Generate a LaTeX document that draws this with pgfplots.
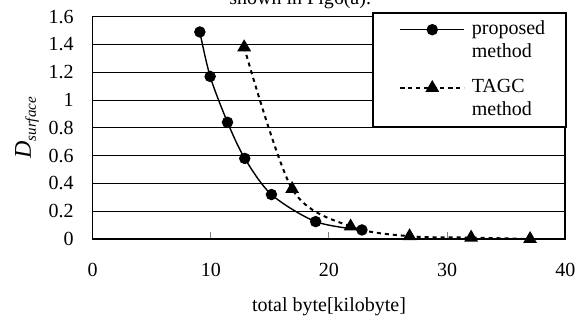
\documentclass[border=0pt]{standalone}
\usepackage{pgfplots}
\pgfplotsset{compat=1.18}
\usepackage{fontspec}
\setmainfont{Liberation Serif}
\begin{document}
\fontsize{10}{12}\selectfont
\begin{tikzpicture}
\begin{axis}[
  at={(0,0)}, anchor=south west,
  scale only axis, width=236.3pt, height=111.15pt,
  xmin=0, xmax=40, ymin=0, ymax=1.6,
  xtick={0,10,20,30,40},
  ytick={0,0.2,0.4,0.6,0.8,1,1.2,1.4,1.6},
  yticklabels={0,0.2,0.4,0.6,0.8,1,1.2,1.4,1.6},
  xtick pos=left,
  major tick length=3.5pt,
  tick align=inside,
  xtick style={draw=gray, line width=0.5pt},
  ytick style={draw=none},
  ymajorgrids,
  grid style={black, line width=0.5pt},
  axis line style={line width=0.8pt},
  /pgf/number format/assume math mode=true,
  tick label style={font=\fontsize{10}{12}\selectfont},
  xticklabel style={yshift=-8.5pt},
  yticklabel style={xshift=-6pt},
  xlabel={total byte[kilobyte]},
  ylabel={{\fontsize{12}{14}\selectfont\textit{D}}\raisebox{-2.5pt}{\fontsize{7.5}{9}\selectfont\textit{surface}}},
  xlabel style={at={(axis description cs:0.5,-0.305)}, anchor=center, font=\fontsize{10}{12}\selectfont},
  ylabel style={at={(axis description cs:-0.139,0.5)}, anchor=center},
  clip=false,
  legend style={at={(1.0036,1.021)}, anchor=north east, draw=black, line width=0.8pt, fill=white,
    inner xsep=10.5pt, inner ysep=4pt, row sep=9.5pt, column sep=3.3pt,
    nodes={inner sep=0pt, anchor=base west, align=left, font=\fontsize{10}{11.5}\selectfont},
    font=\fontsize{10}{11.5}\selectfont},
  legend cell align=left,
  legend image code/.code={
    \path (-2.5pt,14pt) (32pt,14pt);
    \draw[mark repeat=2,mark phase=2,#1] plot coordinates {(0pt,14pt) (16pt,14pt) (32pt,14pt)};
  },
]
\addplot[black, line width=0.7pt, smooth, mark=*, mark size=2.5pt, mark options={solid, fill=black}]
  coordinates {(9.07,1.49) (9.94,1.17) (11.41,0.84) (12.87,0.58) (15.13,0.32) (18.87,0.125) (22.79,0.065)};
\addlegendentry{proposed\\method}
\addplot[black, line width=1pt, smooth, dash pattern=on 2pt off 2pt, mark=triangle*, mark size=3pt, mark options={solid, fill=black}]
  coordinates {(12.82,1.38) (16.88,0.36) (21.83,0.09) (26.82,0.02) (32.03,0.01) (37.02,0.0)};
\addlegendentry{TAGC\\method}
\end{axis}
\node[anchor=base west, inner sep=0pt] at (68.15pt,117.25pt) {shown in Fig6(a).};
\pgfresetboundingbox
\useasboundingbox (-46.35pt,-40.5pt) rectangle (243.65pt,119.5pt);
\end{tikzpicture}
\end{document}
